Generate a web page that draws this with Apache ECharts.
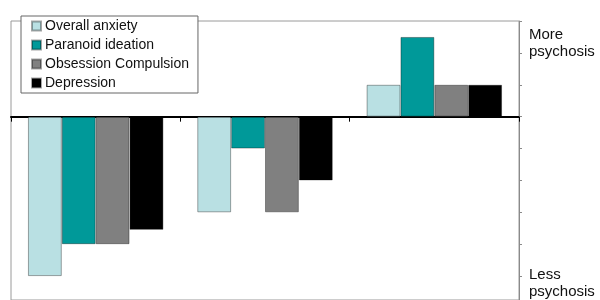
<!DOCTYPE html>
<html><head><meta charset="utf-8">
<script src="https://cdn.jsdelivr.net/npm/echarts@6/dist/echarts.min.js"></script>
<style>html,body{margin:0;padding:0;background:#fff}#c{width:600px;height:300px}</style>
</head><body><div id="c"></div>
<script>
const categories = ['Group 1', 'Group 2', 'Group 3'];
const seriesNames = ['Overall anxiety', 'Paranoid ideation', 'Obsession Compulsion', 'Depression'];
const overallAnxiety = [-5, -3, 1];
const paranoidIdeation = [-4, -1, 2.5];
const obsessionCompulsion = [-4, -3, 1];
const depression = [-3.55, -2, 1];
const yTicks = [-5, -4, -3, -2, -1, 0, 1, 2, 3];
const colors = ['#b9e0e3', '#009999', '#808080', '#000000'];
const values = [overallAnxiety, paranoidIdeation, obsessionCompulsion, depression];
const FONT = 'Liberation Sans, Arial, sans-serif';

const chart = echarts.init(document.getElementById('c'), null, {renderer: 'canvas'});
chart.setOption({
  animation: false,
  textStyle: {fontFamily: FONT},
  grid: {left: 11, right: 81, top: 21, height: 280, show: true, borderColor: '#9a9a9a', borderWidth: 1, backgroundColor: 'transparent'},
  legend: {
    orient: 'vertical', left: 21, top: 16,
    data: seriesNames,
    itemWidth: 9, itemHeight: 9, itemGap: 5,
    backgroundColor: '#fff', borderColor: '#666', borderWidth: 1,
    padding: [3, 9, 3, 10],
    textStyle: {fontSize: 14, color: '#111', padding: [0, 0, 0, -1], fontFamily: FONT},
    icon: 'rect'
  },
  xAxis: {
    type: 'category', data: categories,
    axisLine: {onZero: true, lineStyle: {color: '#000', width: 2}},
    axisTick: {show: true, length: 5, lineStyle: {color: '#000', width: 1}},
    axisLabel: {show: false},
    splitLine: {show: false}
  },
  yAxis: {
    type: 'value', position: 'right', min: -5.75, max: 3,
    axisLine: {show: true, lineStyle: {color: '#8a8a8a', width: 1}},
    axisTick: {show: true, length: 3, customValues: yTicks, lineStyle: {color: '#8a8a8a'}},
    axisLabel: {show: false},
    splitLine: {show: false}
  },
  series: seriesNames.map((n, i) => ({
    name: n, type: 'bar', data: values[i],
    barGap: '0%', barCategoryGap: '20%',
    itemStyle: {color: colors[i], borderColor: 'rgba(0,0,0,0.35)', borderWidth: 1}
  })),
  graphic: [
    {type: 'text', left: 529, top: 26, style: {text: 'More\npsychosis', fontSize: 15, lineHeight: 17, fill: '#111', fontFamily: FONT}},
    {type: 'text', left: 529, top: 266, style: {text: 'Less\npsychosis', fontSize: 15, lineHeight: 17, fill: '#111', fontFamily: FONT}}
  ]
});
</script></body></html>
